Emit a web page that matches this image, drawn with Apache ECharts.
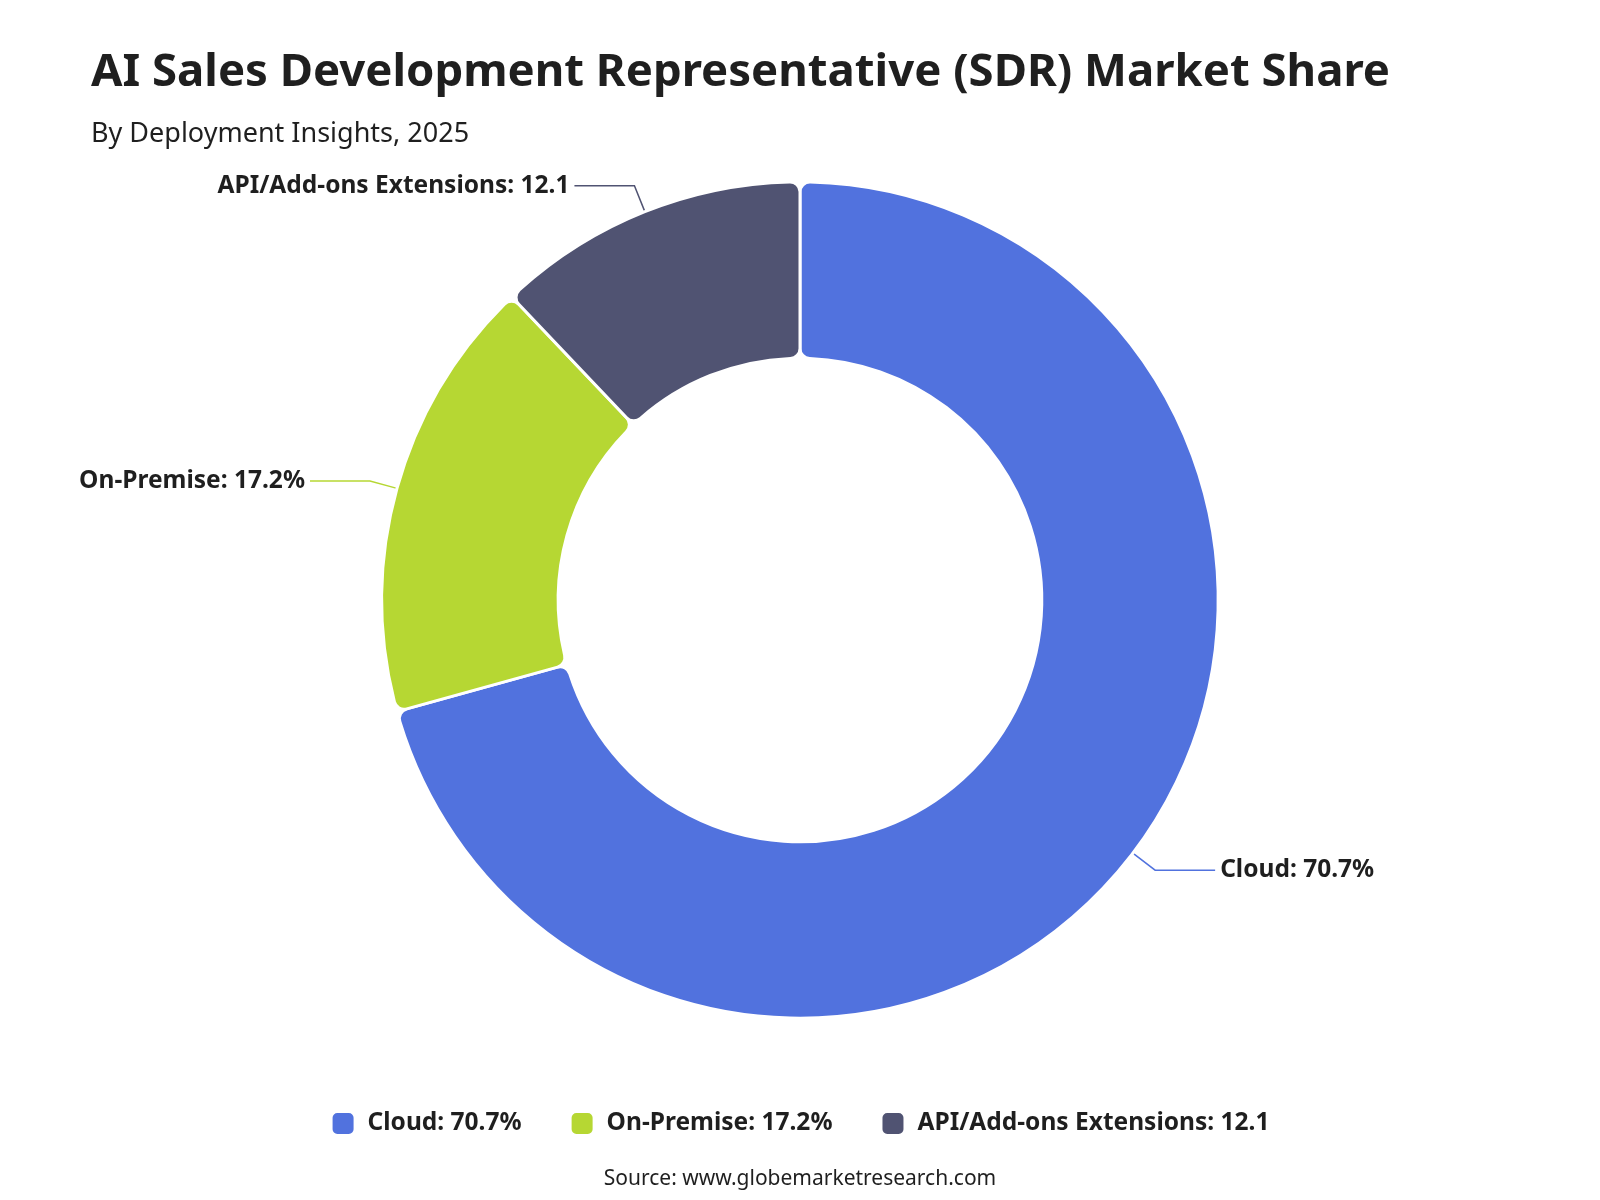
<!DOCTYPE html>
<html>
<head>
<meta charset="utf-8">
<title>AI SDR Market Share</title>
<script src="https://cdn.jsdelivr.net/npm/echarts@6/dist/echarts.min.js"></script>
<style>
  html, body { margin: 0; padding: 0; background: #fff; }
  #chart { width: 1600px; height: 1200px; }
</style>
</head>
<body>
<div id="chart"></div>
<script>
// segment names, values and the unit shown after each value
const segments = ['Cloud', 'On-Premise', 'API/Add-ons Extensions'];
const shares = [70.7, 17.2, 12.1];
const units = ['%', '%', ''];
const colors = ['#5172de', '#b6d733', '#505372'];

const font = '"Noto Sans", "Open Sans", sans-serif';

const pieData = segments.map((name, i) => ({
  name: name,
  value: shares[i],
  itemStyle: { color: colors[i] },
  labelLine: { lineStyle: { color: colors[i] } }
}));

function labelText(name) {
  const i = segments.indexOf(name);
  return name + ': ' + shares[i] + units[i];
}

const chart = echarts.init(document.getElementById('chart'));
const option = {
  backgroundColor: '#fff',
  title: [{
    text: 'AI Sales Development Representative (SDR) Market Share',
    subtext: 'By Deployment Insights, 2025',
    left: 86,
    top: 45,
    itemGap: 25,
    textStyle: { fontFamily: font, fontSize: 45.5, fontWeight: 'bold', color: '#1f1f1f' },
    subtextStyle: { fontFamily: font, fontSize: 27, color: '#1f1f1f' }
  }, {
    text: 'Source: www.globemarketresearch.com',
    left: 'center',
    top: 1164,
    textStyle: { fontFamily: font, fontSize: 21, fontWeight: 'normal', color: '#1f1f1f' }
  }],
  legend: {
    bottom: 59,
    left: 'center',
    itemWidth: 23,
    itemHeight: 23,
    itemGap: 48,
    icon: 'roundRect',
    formatter: labelText,
    textStyle: { fontFamily: font, fontSize: 24.5, fontWeight: 'bold', color: '#1f1f1f', padding: [0, 0, 0, 8] },
    data: segments
  },
  series: [{
    type: 'pie',
    center: ['50%', '50%'],
    radius: ['40.3%', '69.7%'],
    startAngle: 90,
    clockwise: true,
    avoidLabelOverlap: true,
    itemStyle: { borderColor: '#fff', borderWidth: 3, borderRadius: 10 },
    label: {
      show: true,
      formatter: p => labelText(p.name),
      fontFamily: font,
      fontSize: 24.5,
      fontWeight: 'bold',
      color: '#1f1f1f'
    },
    labelLine: { show: true, length: 28, length2: 60, lineStyle: { width: 1.5 } },
    data: pieData
  }]
};
chart.setOption(option);
</script>
</body>
</html>
